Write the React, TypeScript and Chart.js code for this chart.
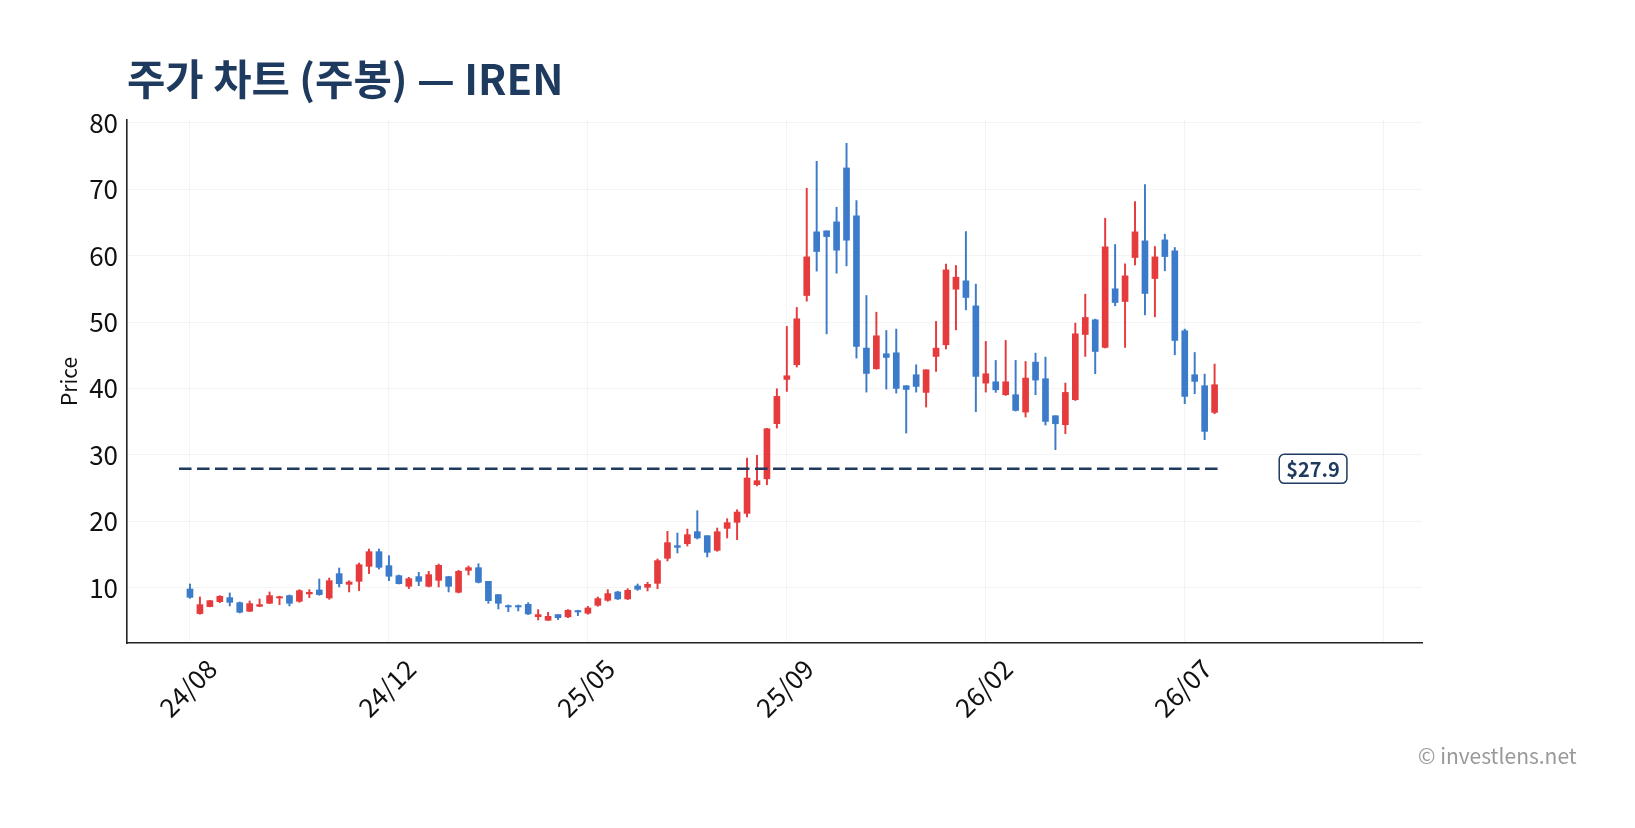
import React, { useEffect, useRef } from 'react';
import { Chart, registerables } from 'chart.js';

Chart.register(...registerables);

// ---- Data ----
const tickPositions = [0, 20, 40, 60, 80, 100, 120];
const tickLabels = ['24/08', '24/12', '25/05', '25/09', '26/02', '26/07', ''];
const yTicks = [10, 20, 30, 40, 50, 60, 70, 80];

const opens = [
  9.80, 6.09, 7.14, 7.89, 8.49, 7.74, 6.44, 7.19, 7.64, 8.44,
  8.80, 7.94, 9.05, 9.65, 8.44, 12.11, 10.50, 10.95, 13.21, 15.42,
  13.31, 11.81, 10.20, 11.66, 10.20, 11.10, 11.66, 9.30, 12.61, 13.01,
  10.95, 8.95, 7.29, 7.29, 7.49, 5.63, 5.08, 5.94, 5.59, 6.54,
  6.14, 7.34, 8.09, 9.35, 8.30, 10.25, 10.05, 10.65, 14.42, 16.32,
  16.62, 18.43, 17.83, 15.62, 18.93, 19.84, 21.19, 25.51, 26.40, 34.70,
  41.37, 43.58, 54.01, 63.60, 63.75, 65.10, 73.23, 66.00, 46.09, 42.97,
  45.23, 45.38, 40.42, 42.07, 39.41, 44.83, 46.58, 54.96, 56.22, 52.45,
  40.81, 41.01, 39.06, 39.06, 36.45, 43.97, 41.47, 35.90, 34.55, 38.31,
  48.14, 50.35, 46.19, 55.02, 53.11, 59.73, 62.24, 56.57, 62.39, 60.74,
  48.70, 42.07, 40.42, 36.40,
];
const highs = [
  10.55, 8.59, 8.10, 8.80, 9.20, 7.84, 7.99, 8.29, 9.35, 8.70,
  8.90, 9.70, 9.70, 11.30, 11.45, 12.96, 11.05, 13.71, 15.82, 15.82,
  14.82, 11.90, 11.55, 12.31, 12.46, 13.56, 11.70, 12.61, 13.26, 13.61,
  10.95, 8.95, 7.39, 7.39, 7.74, 6.69, 6.29, 5.94, 6.69, 6.59,
  7.19, 8.60, 9.70, 9.45, 9.85, 10.55, 10.80, 14.32, 18.48, 18.23,
  18.83, 21.59, 17.83, 18.98, 20.39, 21.74, 29.52, 29.92, 34.00, 39.96,
  49.35, 52.21, 70.17, 74.23, 63.75, 67.31, 76.94, 68.31, 54.01, 51.50,
  48.74, 48.95, 40.42, 43.57, 42.82, 50.10, 58.73, 58.53, 63.64, 55.72,
  47.09, 44.23, 47.24, 44.23, 44.07, 45.33, 44.73, 35.90, 40.82, 49.85,
  54.21, 50.45, 65.65, 61.69, 58.78, 68.16, 70.72, 61.39, 63.25, 61.24,
  48.95, 45.43, 42.17, 43.68,
];
const lows = [
  8.39, 5.99, 7.10, 7.74, 7.24, 6.19, 6.40, 7.14, 7.60, 7.44,
  7.24, 7.79, 8.49, 8.85, 8.24, 10.10, 9.35, 9.55, 12.11, 12.81,
  11.05, 10.55, 9.85, 10.30, 10.10, 10.10, 9.35, 9.20, 11.91, 10.70,
  7.64, 6.79, 6.39, 6.49, 5.94, 5.13, 5.08, 5.18, 5.49, 5.79,
  5.99, 7.19, 7.94, 8.20, 8.20, 9.60, 9.50, 9.85, 14.02, 15.22,
  16.27, 17.33, 14.62, 15.47, 17.48, 17.23, 20.64, 25.31, 25.50, 34.04,
  39.56, 43.23, 53.16, 57.68, 48.24, 57.37, 58.48, 44.58, 39.46, 42.90,
  39.91, 39.31, 33.29, 39.46, 37.20, 42.57, 45.98, 48.84, 51.85, 36.50,
  39.46, 39.41, 38.96, 36.60, 35.70, 39.06, 34.49, 30.78, 33.19, 38.20,
  44.83, 42.22, 46.10, 52.46, 46.19, 58.63, 51.10, 50.80, 57.73, 45.08,
  37.71, 39.21, 32.29, 36.20,
];
const closes = [
  8.54, 7.44, 8.04, 8.69, 7.79, 6.29, 7.59, 7.44, 8.80, 8.64,
  7.64, 9.55, 9.30, 8.95, 11.05, 10.60, 10.85, 13.46, 15.42, 13.06,
  11.71, 10.60, 11.35, 10.95, 11.96, 13.36, 10.20, 12.46, 13.01, 10.80,
  8.04, 7.64, 7.09, 7.09, 6.04, 5.94, 5.68, 5.48, 6.59, 6.34,
  6.94, 8.35, 9.10, 8.30, 9.60, 9.75, 10.50, 14.07, 16.78, 16.07,
  17.98, 17.48, 15.32, 18.43, 19.79, 21.39, 26.51, 26.11, 33.94, 38.81,
  41.92, 50.50, 59.83, 60.64, 62.89, 60.84, 62.34, 46.34, 42.27, 47.94,
  44.68, 40.01, 39.86, 40.31, 42.82, 46.08, 57.87, 56.77, 53.71, 41.82,
  42.22, 39.81, 41.01, 36.70, 41.57, 41.27, 35.04, 34.69, 39.41, 48.24,
  50.70, 45.58, 61.34, 52.96, 56.97, 63.60, 54.32, 59.83, 59.88, 47.24,
  38.81, 41.07, 33.54, 40.57,
];

const refPrice = 27.9;
const refLineFrom = -1.1;
const refLineTo = 103.3;
const refLabelAt = 112.9;

// ---- Styles ----
const UP = '#e53b3d';
const DOWN = '#3b7bc9';
const NAVY = '#1e3a5f';
const FONT = '"Noto Sans CJK KR", "Noto Sans", sans-serif';

const refLabelPlugin = {
  id: 'refLabel',
  afterDatasetsDraw(chart: any) {
    const { ctx, scales } = chart;
    const px = scales.x.getPixelForValue(refLabelAt);
    const py = scales.y.getPixelForValue(refPrice);
    const text = '$' + refPrice.toFixed(1);
    ctx.save();
    ctx.font = 'bold 20px ' + FONT;
    const w = ctx.measureText(text).width + 14;
    const h = 29;
    ctx.beginPath();
    ctx.roundRect(px - w / 2, py - h / 2, w, h, 5);
    ctx.fillStyle = '#ffffff';
    ctx.fill();
    ctx.lineWidth = 1.5;
    ctx.strokeStyle = NAVY;
    ctx.stroke();
    ctx.fillStyle = NAVY;
    ctx.textAlign = 'center';
    ctx.textBaseline = 'middle';
    ctx.fillText(text, px, py + 1);
    ctx.restore();
  },
};

export default function App() {
  const canvasRef = useRef<HTMLCanvasElement | null>(null);

  useEffect(() => {
    if (!canvasRef.current) return;
    const idx = opens.map((_, i) => i);
    const colorOf = (i: number) => (closes[i] >= opens[i] ? UP : DOWN);
    const chart = new Chart(canvasRef.current, {
      type: 'bar',
      data: {
        datasets: [
          {
            type: 'bar',
            data: idx.map((i) => ({ x: i, y: [lows[i], highs[i]] })) as any,
            backgroundColor: idx.map(colorOf),
            barThickness: 1.3,
            grouped: false,
            borderWidth: 0,
            order: 2,
          } as any,
          {
            type: 'bar',
            data: idx.map((i) => ({ x: i, y: [Math.min(opens[i], closes[i]), Math.max(opens[i], closes[i])] })) as any,
            backgroundColor: idx.map(colorOf),
            barThickness: 6,
            grouped: false,
            borderWidth: 0,
            order: 1,
          } as any,
          {
            type: 'line',
            data: [
              { x: refLineFrom, y: refPrice },
              { x: refLineTo, y: refPrice },
            ] as any,
            borderColor: NAVY,
            borderWidth: 2.5,
            borderDash: [12.5, 5.5],
            pointRadius: 0,
            order: 0,
          } as any,
        ],
      },
      options: {
        animation: false,
        responsive: false,
        maintainAspectRatio: false,
        layout: { padding: { top: 120, right: 213, bottom: 0, left: 0 } },
        plugins: {
          legend: { display: false },
          tooltip: { enabled: false },
          title: { display: false },
        },
        scales: {
          x: {
            type: 'linear',
            min: -6.33,
            max: 123.85,
            offset: false,
            afterBuildTicks: (s: any) => {
              s.ticks = tickPositions.map((v) => ({ value: v }));
            },
            afterFit: (s: any) => {
              s.height = 185;
              s.paddingLeft = 0;
              s.paddingRight = 0;
            },
            grid: { color: 'rgba(0,0,0,0.045)', drawTicks: false, lineWidth: 1, offset: false },
            border: { display: true, color: '#222', width: 1.6 },
            ticks: {
              autoSkip: false,
              minRotation: 45,
              maxRotation: 45,
              padding: 10,
              labelOffset: 22,
              color: '#111',
              font: { family: FONT, size: 26 },
              callback: (v: any) => {
                const k = tickPositions.indexOf(Number(v));
                return k >= 0 ? tickLabels[k] : '';
              },
            },
          },
          y: {
            type: 'linear',
            min: 1.66,
            max: 80.45,
            afterBuildTicks: (s: any) => {
              s.ticks = yTicks.map((v) => ({ value: v }));
            },
            afterFit: (s: any) => {
              s.width = 127;
              s.paddingTop = 0;
              s.paddingBottom = 0;
            },
            grid: { color: 'rgba(0,0,0,0.045)', drawTicks: false, lineWidth: 1 },
            border: { display: true, color: '#222', width: 1.6 },
            ticks: {
              padding: 9,
              color: '#111',
              font: { family: FONT, size: 26 },
            },
            title: {
              display: true,
              text: 'Price',
              color: '#111',
              font: { family: FONT, size: 21 },
              padding: { top: 56, bottom: 0 },
            },
          },
        },
      } as any,
      plugins: [refLabelPlugin],
    });
    return () => chart.destroy();
  }, []);

  return (
    <div style={{ position: 'fixed', left: 0, top: 0, width: 1635, height: 828, background: '#fff' }}>
      <canvas ref={canvasRef} width={1635} height={828} style={{ position: 'absolute', left: 0, top: 0 }} />
      <div
        style={{
          position: 'absolute',
          left: 127,
          top: 47,
          fontFamily: FONT,
          fontWeight: 700,
          fontSize: 41.7,
          lineHeight: '60px',
          color: NAVY,
          whiteSpace: 'nowrap',
        }}
      >
        주가 차트 (주봉) — IREN
      </div>
      <div
        style={{
          position: 'absolute',
          left: 1418,
          top: 740,
          fontFamily: FONT,
          fontSize: 21,
          lineHeight: '30px',
          color: '#999',
          whiteSpace: 'nowrap',
        }}
      >
        © investlens.net
      </div>
    </div>
  );
}
